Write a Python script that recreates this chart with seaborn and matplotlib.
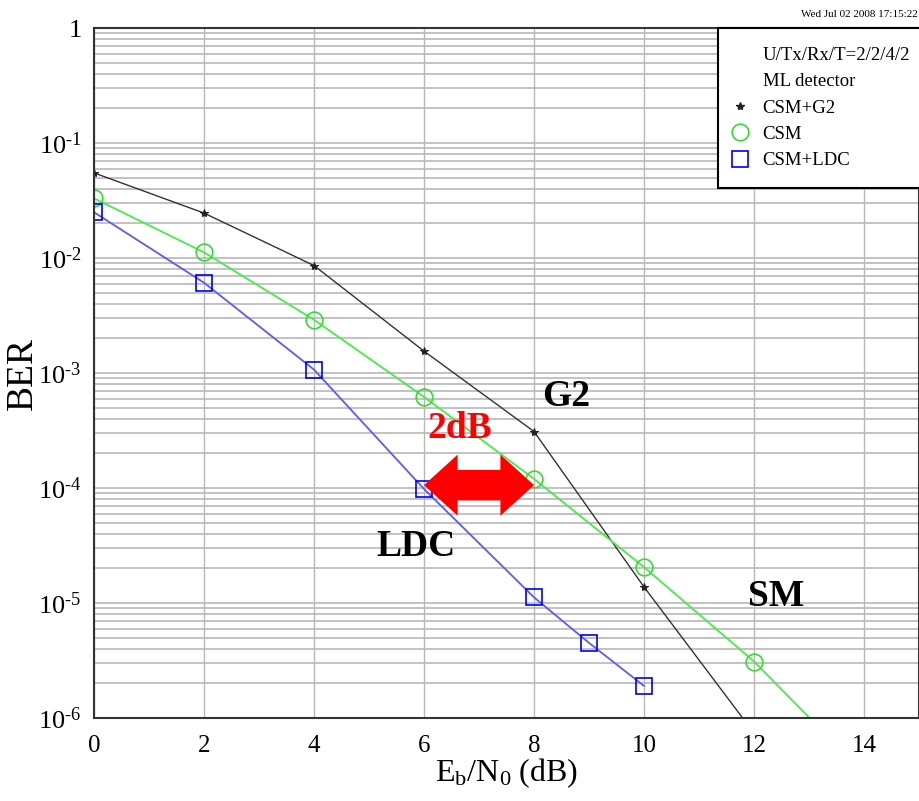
import numpy as np
import pandas as pd
import seaborn as sns
import matplotlib.pyplot as plt
from matplotlib.lines import Line2D

# Data
snr_g2 = [0, 2, 4, 6, 8, 10, 12]
ber_g2 = [0.055, 0.0246, 0.0086, 0.00155, 3.1e-4, 1.38e-5, 7.4e-7]

snr_csm = [0, 2, 4, 6, 8, 10, 12, 14]
ber_csm = [0.033, 0.0112, 0.0029, 6.2e-4, 1.2e-4, 2.05e-5, 3.1e-6, 3.3e-7]

snr_ldc = [0, 2, 4, 6, 8, 9, 10]
ber_ldc = [0.025, 0.0061, 0.00107, 9.8e-5, 1.12e-5, 4.5e-6, 1.9e-6]

x_ticks = [0, 2, 4, 6, 8, 10, 12, 14]
y_ticks = [1, 1e-1, 1e-2, 1e-3, 1e-4, 1e-5, 1e-6]
y_labels = ['1'] + [r'$10^{\text{-%d}}$' % k for k in range(1, 7)]

sns.set_style('white')
plt.rcParams['font.family'] = ['Liberation Serif', 'DejaVu Serif']
plt.rcParams['mathtext.fontset'] = 'custom'
plt.rcParams['mathtext.rm'] = 'Liberation Serif'
plt.rcParams['mathtext.it'] = 'Liberation Serif:italic'
plt.rcParams['text.color'] = 'black'
plt.rcParams['axes.labelcolor'] = 'black'
plt.rcParams['xtick.color'] = 'black'
plt.rcParams['ytick.color'] = 'black'

fig = plt.figure(figsize=(9.19, 8.01), dpi=100)
ax = fig.add_axes([0.1023, 0.1036, 0.8977, 0.8614])

sns.lineplot(x=snr_g2, y=ber_g2, ax=ax, color='#333333', lw=1, marker='*',
             markersize=6, markeredgecolor='#222222', markerfacecolor='#222222')
sns.lineplot(x=snr_csm, y=ber_csm, ax=ax, color='#44ee44', lw=1.3, marker='o',
             markersize=12, markerfacecolor='none', markeredgecolor='#33dd33', markeredgewidth=1.2)
sns.lineplot(x=snr_ldc, y=ber_ldc, ax=ax, color='#5a5aff', lw=1.3, marker='s',
             markersize=11, markerfacecolor='none', markeredgecolor='#0000ee', markeredgewidth=1.2)

ax.set_yscale('log')
ax.set_xlim(0, 15)
ax.set_ylim(1e-6, 1)
ax.set_xticks(x_ticks)
ax.set_xticklabels([str(t) for t in x_ticks], fontsize=18)
ax.set_yticks(y_ticks)
ax.set_yticklabels(y_labels, fontsize=19)
ax.tick_params(axis='x', length=0, pad=12)
ax.tick_params(axis='y', length=0, pad=9)

ax.grid(True, which='major', axis='x', color='#b8b8b8', lw=1)
ax.grid(True, which='both', axis='y', color='#b8b8b8', lw=1.2)
ax.set_axisbelow(True)
for s in ax.spines.values():
    s.set_color('#333333')
    s.set_linewidth(1.5)

ax.set_xlabel(r'E$_\mathrm{b}$/N$_0$ (dB)', fontsize=23, labelpad=0)
ax.set_ylabel('BER', fontsize=27)
ax.yaxis.set_label_coords(-0.066, 0.5)

# annotations
ax.text(8.59, 6.2e-4, 'G2', fontsize=27, fontweight='bold', ha='center', va='center')
ax.text(6.65, 3.3e-4, '2dB', fontsize=27, fontweight='bold', color='red', ha='center', va='center')
ax.text(5.85, 3.1e-5, 'LDC', fontsize=27, fontweight='bold', ha='center', va='center')
ax.text(12.4, 1.14e-5, 'SM', fontsize=27, fontweight='bold', ha='center', va='center')

# red double arrow between LDC at 6 dB and CSM at 8 dB
arrow_y = ber_ldc[3] * 1.08
x_mid = (snr_ldc[3] + snr_csm[4]) / 2
for x_end in (snr_ldc[3], snr_csm[4]):
    ax.annotate('', xy=(x_end, arrow_y), xytext=(x_mid, arrow_y),
                arrowprops=dict(arrowstyle='simple,head_length=0.55,head_width=1.0,tail_width=0.5',
                                color='red', lw=0, shrinkA=0, shrinkB=0, mutation_scale=44))

blank = Line2D([], [], linestyle='none')
handles = [blank, blank,
           Line2D([], [], linestyle='none', marker='*', color='#222222', markersize=6),
           Line2D([], [], linestyle='none', marker='o', markerfacecolor='none',
                  markeredgecolor='#33dd33', markersize=12, markeredgewidth=1.2),
           Line2D([], [], linestyle='none', marker='s', markerfacecolor='none',
                  markeredgecolor='#0000ee', markersize=11, markeredgewidth=1.2)]
labels = ['U/Tx/Rx/T=2/2/4/2', 'ML detector', 'CSM+G2', 'CSM', 'CSM+LDC']
leg = ax.legend(handles, labels, loc='upper right', fontsize=13.5, frameon=True, fancybox=False,
                edgecolor='black', framealpha=1, borderpad=1.0, handletextpad=1.07,
                labelspacing=0.49, handlelength=0.3, borderaxespad=0,
                bbox_to_anchor=(1.012, 1.0))
leg.get_frame().set_linewidth(1.5)

fig.text(0.999, 0.982, 'Wed Jul 02 2008 17:15:22', fontsize=8, ha='right', va='center')

fig.savefig('out.png', dpi=100)
